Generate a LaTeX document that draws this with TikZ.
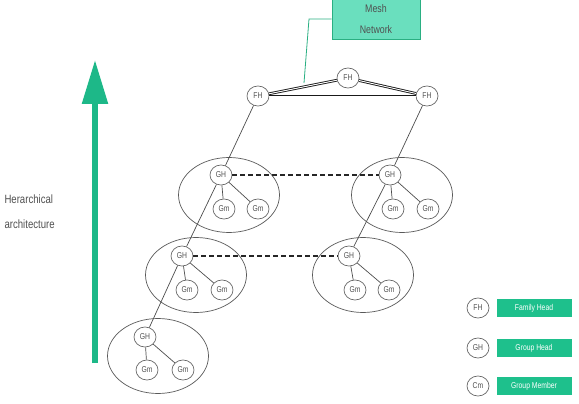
\documentclass[tikz,border=0pt]{standalone}
\usepackage{fontspec}
\setmainfont{Liberation Sans}[FakeStretch=0.8]
\usetikzlibrary{shapes.geometric,arrows.meta}
\definecolor{agreen}{HTML}{1DB888}
\definecolor{mgreen}{HTML}{6ADFBE}
\definecolor{mborder}{HTML}{2AAF82}
\definecolor{lgreen}{HTML}{1EC08C}
\definecolor{txt}{HTML}{505050}
\tikzset{
  hn/.style={ellipse, draw=black!60, line width=0.7pt, fill=white, minimum width=22pt, minimum height=20pt, inner sep=0pt, font=\fontsize{8.5}{9}\selectfont, text=txt},
  clus/.style={ellipse, draw=black!65, line width=0.7pt, minimum width=101pt, minimum height=75pt},
  thin/.style={draw=black!70, line width=0.7pt},
  fhlink/.style={draw=black!90, line width=0.9pt, double=white, double distance=0.9pt},
  glink/.style={draw=black!85, line width=1.7pt, dash pattern=on 5pt off 3pt},
  lbox/.style={rectangle, fill=lgreen, minimum width=75pt, minimum height=18pt, inner sep=0pt, text=white, font=\fontsize{8.5}{9}\selectfont},
}
\begin{document}
\begin{tikzpicture}[x=1pt,y=-1pt]
\useasboundingbox (0,0) rectangle (579,404);
% arrow
\coordinate (abot) at (95,363);
\coordinate (atop) at (95,60);
\draw[agreen, line width=5.5pt, -{Triangle[length=44pt,width=25pt]}] (abot) -- (atop);
\node[align=left, anchor=west, font=\fontsize{12}{25}\selectfont, text=txt] (harch) at (1,212) {Herarchical\\architecture};
% mesh box
\node[rectangle, draw=mborder, line width=0.8pt, fill=mgreen, minimum width=88pt, minimum height=40pt, inner sep=0pt, align=center, text=txt, font=\fontsize{11}{21}\selectfont] (mesh) at (376,19) {Mesh\\Network};
% clusters
\node[clus] (c1) at (229,195) {};
\node[clus] (c2) at (402,195) {};
\node[clus] (c3) at (196,275) {};
\node[clus] (c4) at (363,275) {};
\node[clus] (c5) at (158,356) {};
% FH nodes
\node[hn] (fhL) at (258,96) {FH};
\node[hn] (fhM) at (348,78) {FH};
\node[hn] (fhR) at (427,96) {FH};
% GH and Gm
\node[hn] (gh1) at (221,175) {GH};
\node[hn] (g1a) at (224,209) {Gm};
\node[hn] (g1b) at (258,209) {Gm};
\node[hn] (gh2) at (390,175) {GH};
\node[hn] (g2a) at (393,209) {Gm};
\node[hn] (g2b) at (428,209) {Gm};
\node[hn] (gh3) at (182,256) {GH};
\node[hn] (g3a) at (187,290) {Gm};
\node[hn] (g3b) at (222,290) {Gm};
\node[hn] (gh4) at (349,256) {GH};
\node[hn] (g4a) at (355,290) {Gm};
\node[hn] (g4b) at (389,290) {Gm};
\node[hn] (gh5) at (145,337) {GH};
\node[hn] (g5a) at (147,370) {Gm};
\node[hn] (g5b) at (183,370) {Gm};
% FH links
\draw[fhlink] (fhL) -- (fhM);
\draw[fhlink] (fhM) -- (fhR);
\draw[fhlink] (fhL.east) -- (fhR.west);
% mesh pointer
\coordinate (mp) at (304,83);
\draw[mborder, line width=0.8pt] (mesh.west) -- (309,19) -- (mp);
% hierarchy lines
\draw[thin] (fhL) -- (gh1);
\draw[thin] (gh1) -- (gh3);
\draw[thin] (gh3) -- (gh5);
\draw[thin] (fhR) -- (gh2);
\draw[thin] (gh2) -- (gh4);
% member lines
\foreach \g/\a/\b in {gh1/g1a/g1b, gh2/g2a/g2b, gh3/g3a/g3b, gh4/g4a/g4b, gh5/g5a/g5b}{
  \draw[thin] (\g) -- (\a);
  \draw[thin] (\g) -- (\b);
}
% dashed links
\draw[glink] (gh1) -- (gh2);
\draw[glink] (gh3) -- (gh4);
% legend
\node[hn] (lfh) at (478,308) {FH};
\node[hn] (lgh) at (478,348) {GH};
\node[hn] (lcm) at (478,386) {Cm};
\node[lbox] (bfh) at (534,308) {Family Head};
\node[lbox] (bgh) at (534,348) {Group Head};
\node[lbox] (bcm) at (534,386) {Group Member};
\end{tikzpicture}
\end{document}
